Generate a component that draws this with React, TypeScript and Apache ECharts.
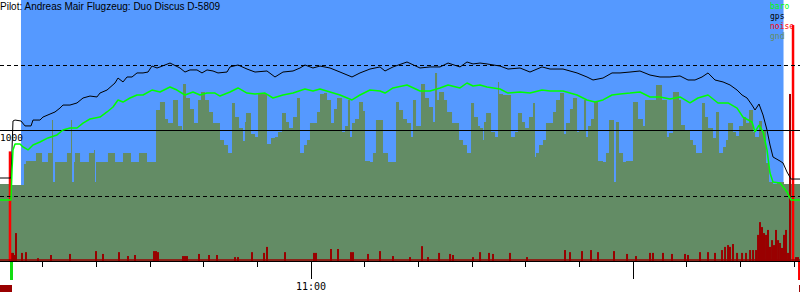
import React, { useEffect, useRef } from 'react';
import * as echarts from 'echarts';

// ---- texts ----
const titleText = 'Pilot: Andreas Mair Flugzeug: Duo Discus D-5809';
const legendNames = ['baro', 'gps', 'noise', 'gnd'];

// ---- time axis (minutes after 10:00) ----
const axisStart = 2.05;
const axisEnd = 151.12;
const flightStart = 5.96;
const flightEnd = 148.05;
const takeoffTime = 4.19;
const landingTime = 150.94;
const engineRunStart = [2.05, 150.94];
const engineRunEnd = [4.29, 151.12];
const tickMinutes = [10, 20, 30, 40, 50, 60, 70, 80, 90, 100, 110, 120, 130, 140, 150];
const hourMinutes = [60, 120];
const labelMinutes = [60];

// ---- altitude axis (m) ----
const altMax = 2000;
const dashedLevels = [500, 1500];
const solidLevels = [1000];
const labelLevels = [1000];

// ---- ground elevation (gnd): time of change, elevation ----
const gndTime = [
  2.05, 4.10, 6.52, 6.89, 8.76, 9.88, 10.99, 11.74, 11.93, 12.30,
  14.53, 15.28, 15.47, 15.84, 16.03, 16.96, 18.63, 19.57, 19.75, 19.94,
  22.17, 23.48, 24.97, 26.46, 27.95, 29.44, 31.12, 31.86, 32.80, 33.36,
  34.29, 35.22, 35.96, 36.15, 36.71, 37.45, 38.20, 38.95, 39.50, 40.25,
  41.00, 41.74, 43.04, 43.79, 44.54, 45.28, 45.84, 46.59, 47.33, 47.70,
  47.89, 48.82, 49.57, 50.13, 51.80, 52.55, 53.29, 53.85, 54.60, 55.34,
  55.90, 56.65, 57.39, 57.95, 58.70, 59.25, 59.81, 61.12, 61.68, 62.42,
  62.98, 63.73, 64.29, 64.85, 65.78, 66.34, 66.89, 67.27, 67.64, 68.20,
  68.95, 69.69, 70.06, 70.99, 71.55, 72.11, 73.42, 74.35, 75.84, 76.40,
  77.15, 77.89, 78.64, 79.01, 79.57, 80.50, 81.25, 81.99, 82.74, 83.11,
  83.49, 83.86, 84.79, 85.35, 86.28, 87.59, 88.33, 89.07, 89.82, 90.38,
  91.12, 91.50, 92.06, 92.24, 92.62, 93.55, 94.29, 94.85, 95.04, 95.78,
  97.27, 98.02, 98.57, 99.32, 99.88, 100.62, 101.37, 101.74, 101.93, 102.49,
  103.23, 103.79, 105.10, 105.66, 106.40, 107.15, 107.52, 108.26, 108.82, 109.57,
  109.94, 110.87, 111.25, 111.62, 112.18, 112.74, 113.48, 114.41, 114.97, 115.53,
  116.46, 116.83, 117.39, 118.14, 118.69, 120.00, 120.93, 121.86, 122.24, 124.29,
  125.40, 126.33, 126.71, 127.45, 128.57, 128.94, 129.69, 130.62, 131.18, 131.74,
  132.86, 133.42, 133.98, 134.91, 135.47, 136.03, 136.78, 137.33, 137.71, 138.64,
  139.20, 139.76, 140.50, 141.06, 141.62, 142.37, 142.74, 143.48, 144.04, 144.79,
  145.35, 146.09, 146.84, 148.14, 151.12,
];
const gndElev = [
  590, 582, 743, 766, 828, 759, 828, 1080, 605, 759,
  828, 1080, 605, 759, 828, 759, 828, 851, 605, 759,
  828, 759, 828, 759, 828, 759, 1157, 1218, 1088, 1057,
  1234, 1035, 996, 1356, 1249, 1165, 1057, 1234, 1295, 1234,
  1142, 1057, 927, 889, 828, 1211, 1103, 1019, 920, 1065,
  1134, 973, 950, 1280, 897, 943, 950, 989, 1134, 1065,
  1019, 1103, 1249, 828, 889, 927, 1057, 1142, 1280, 1287,
  1234, 1057, 1165, 1249, 989, 1035, 1234, 950, 1057, 1088,
  1218, 1149, 766, 759, 828, 1080, 828, 759, 1218, 1157,
  1088, 1057, 950, 1234, 1035, 1356, 1249, 1180, 1065, 1441,
  1234, 1295, 1234, 1142, 1057, 927, 889, 828, 1211, 1103,
  1035, 1019, 927, 1065, 1134, 989, 950, 1372, 1280, 1272,
  950, 989, 1134, 1065, 1019, 1103, 1211, 797, 828, 889,
  927, 1057, 1142, 1234, 1287, 973, 1057, 1165, 1249, 989,
  996, 1234, 950, 1035, 1088, 1218, 766, 759, 828, 1080,
  605, 1065, 828, 759, 766, 1218, 1088, 1035, 1234, 1349,
  1234, 950, 981, 1295, 1234, 1042, 1004, 927, 889, 828,
  1211, 1103, 1019, 943, 1142, 828, 874, 927, 1057, 989,
  958, 1035, 1103, 1057, 1157, 989, 950, 1073, 1004, 751,
  605, 590, 605, 590, 590,
];

// ---- GPS altitude ----
const gpsTime = [
  2.05, 4.10, 4.47, 4.85, 5.96, 6.71, 7.83, 8.20, 9.50, 10.06,
  11.37, 12.30, 13.23, 13.79, 15.09, 16.40, 17.52, 18.82, 20.12, 20.68,
  21.99, 23.48, 24.04, 24.97, 25.72, 26.65, 27.58, 28.70, 29.63, 30.37,
  31.31, 31.86, 33.73, 35.59, 36.52, 37.45, 38.76, 39.69, 40.62, 41.74,
  42.67, 44.35, 44.91, 46.40, 48.08, 49.57, 51.80, 53.29, 54.78, 56.65,
  57.95, 58.88, 60.37, 61.68, 63.54, 65.41, 67.64, 69.13, 70.99, 72.86,
  73.79, 75.28, 77.89, 80.31, 82.18, 84.04, 85.54, 87.77, 89.07, 90.19,
  91.50, 92.80, 95.22, 96.71, 98.95, 100.81, 103.05, 104.54, 106.96, 109.57,
  111.43, 112.55, 114.41, 116.09, 117.58, 119.44, 121.30, 123.17, 125.03, 126.89,
  128.76, 130.25, 131.56, 132.86, 133.98, 135.28, 136.78, 138.08, 139.39, 140.32,
  141.25, 142.18, 142.74, 143.48, 144.23, 144.97, 145.53, 146.09, 147.40, 147.96,
  148.70, 149.45, 151.12,
];
const gpsAlt = [
  636, 636, 1073, 1080, 1073, 1035, 1035, 1080, 1080, 1103,
  1126, 1142, 1172, 1195, 1195, 1211, 1249, 1264, 1257, 1287,
  1310, 1364, 1402, 1372, 1410, 1410, 1441, 1441, 1448, 1494,
  1479, 1487, 1517, 1479, 1448, 1464, 1464, 1441, 1464, 1456,
  1441, 1448, 1487, 1502, 1471, 1448, 1456, 1410, 1448, 1456,
  1479, 1502, 1479, 1494, 1479, 1448, 1410, 1441, 1471, 1487,
  1456, 1487, 1525, 1479, 1487, 1487, 1517, 1487, 1525, 1510,
  1517, 1510, 1494, 1471, 1479, 1448, 1487, 1471, 1471, 1441,
  1410, 1387, 1402, 1441, 1441, 1448, 1456, 1425, 1410, 1410,
  1418, 1387, 1387, 1410, 1441, 1387, 1372, 1349, 1310, 1272,
  1249, 1195, 1157, 1203, 1119, 1004, 889, 797, 766, 751,
  682, 628, 628,
];

// ---- barometric altitude ----
const baroTime = [
  2.05, 4.10, 4.29, 4.47, 4.85, 5.78, 6.34, 7.27, 8.20, 9.50,
  10.99, 12.67, 13.79, 15.09, 16.40, 17.52, 18.82, 20.68, 21.99, 23.11,
  24.04, 24.97, 26.27, 27.58, 28.70, 30.37, 31.86, 33.73, 35.03, 36.52,
  38.01, 39.32, 40.62, 42.11, 43.04, 44.91, 46.40, 48.08, 49.57, 51.43,
  52.92, 54.78, 56.65, 58.88, 60.37, 61.68, 63.54, 65.41, 67.64, 69.13,
  70.99, 72.86, 73.79, 75.28, 77.89, 80.31, 82.18, 84.04, 85.54, 87.77,
  89.07, 90.19, 91.50, 92.80, 95.22, 96.71, 98.95, 100.81, 103.05, 104.54,
  106.96, 109.57, 111.43, 112.92, 114.41, 116.09, 117.58, 119.44, 121.30, 123.17,
  125.03, 126.89, 128.76, 130.62, 132.11, 133.98, 135.84, 137.71, 139.39, 140.50,
  142.18, 142.74, 143.48, 144.23, 144.97, 145.53, 146.09, 147.40, 148.70, 149.45,
  151.12,
];
const baroAlt = [
  467, 467, 697, 851, 897, 897, 874, 851, 889, 912,
  943, 966, 1004, 1019, 1019, 1057, 1088, 1103, 1142, 1180,
  1234, 1218, 1249, 1272, 1272, 1310, 1295, 1333, 1310, 1272,
  1295, 1272, 1287, 1287, 1264, 1295, 1326, 1287, 1280, 1287,
  1249, 1272, 1287, 1318, 1303, 1318, 1295, 1272, 1234, 1272,
  1310, 1303, 1287, 1326, 1349, 1303, 1303, 1326, 1349, 1326,
  1364, 1341, 1349, 1333, 1318, 1287, 1295, 1287, 1310, 1303,
  1303, 1272, 1234, 1218, 1234, 1272, 1280, 1287, 1295, 1257,
  1257, 1241, 1257, 1211, 1249, 1272, 1211, 1211, 1172, 1103,
  1065, 989, 1042, 989, 851, 674, 605, 598, 529, 467,
  467,
];

// ---- noise level (%) ----
const noiseTime = [
  4.29, 4.47, 4.66, 5.03, 6.15, 6.89, 9.13, 11.55, 15.09, 19.94,
  21.24, 24.22, 25.90, 27.21, 30.75, 31.12, 31.49, 36.15, 36.52, 36.90,
  39.13, 41.00, 42.49, 45.84, 46.40, 49.01, 51.24, 51.80, 55.16, 60.56,
  60.93, 63.73, 65.03, 67.45, 67.83, 70.62, 72.86, 75.28, 78.45, 80.69,
  81.80, 83.86, 85.91, 86.46, 90.19, 91.50, 93.17, 93.92, 97.08, 100.25,
  107.33, 108.26, 110.50, 112.18, 113.48, 116.46, 118.89, 120.56, 123.17, 123.73,
  125.59, 127.27, 129.69, 130.25, 132.49, 133.98, 135.28, 136.59, 137.15, 137.71,
  138.08, 138.64, 139.39, 140.32, 141.06, 141.81, 142.37, 142.93, 143.30, 143.67,
  144.04, 144.41, 144.79, 145.16, 145.53, 145.91, 146.28, 146.65, 147.03, 147.40,
  147.77, 148.14, 148.51, 148.89, 149.26, 150.38, 150.75,
];
const noiseLevel = [
  3.1, 3.1, 2.3, 10.7, 3.1, 3.4, 1.1, 2.3, 2.7, 3.8,
  2.7, 3.4, 1.9, 2.3, 3.8, 3.8, 3.4, 1.9, 1.9, 1.9,
  2.7, 2.3, 2.3, 1.5, 1.5, 3.4, 3.1, 5.4, 3.4, 3.1,
  3.1, 4.6, 4.6, 3.4, 3.4, 2.7, 3.8, 1.9, 1.5, 5.7,
  1.5, 3.1, 2.7, 2.3, 1.5, 3.4, 3.1, 2.7, 3.1, 1.5,
  4.2, 3.4, 3.8, 4.2, 3.4, 3.8, 2.7, 1.9, 3.1, 3.1,
  3.1, 2.7, 2.7, 2.3, 3.4, 3.4, 3.1, 4.2, 5.4, 6.1,
  5.4, 6.5, 3.1, 3.1, 3.1, 4.2, 4.2, 4.2, 10.0, 14.9,
  13.0, 10.7, 10.0, 11.9, 5.4, 8.0, 6.1, 11.9, 8.0, 6.9,
  5.0, 10.0, 11.9, 3.1, 64.0, 1.5, 1.5,
];
const noiseFloor = 0.4;
const noisePeakTime = [3.91, 149.82];
const noisePeakLevel = [42, 90.4];

// ---- colours ----
const skyColor = '#5599ff';
const gndColor = '#638c65';
const baroColor = '#00ff00';
const gpsColor = '#000000';
const noiseColor = '#990000';
const noisePeakColor = '#ff0000';
const takeoffColor = '#11dd11';

const zip = (a: number[], b: number[]) => a.map((v, i) => [v, b[i]]);
const clock = (v: number) => {
  const h = 10 + Math.floor(v / 60);
  const m = Math.round(v % 60);
  return `${h}:${String(m).padStart(2, '0')}`;
};

const barRenderer = (fill: string, w: number) => (_p: any, api: any) => {
  const top = api.coord([api.value(0), api.value(1)]);
  const bottom = api.coord([api.value(0), 0]);
  return {
    type: 'rect',
    shape: { x: top[0] - w / 2, y: top[1], width: w, height: bottom[1] - top[1] },
    style: { fill },
  };
};

export default function App() {
  const ref = useRef<HTMLDivElement>(null);
  useEffect(() => {
    if (!ref.current) return;
    const chart = echarts.init(ref.current, undefined, { renderer: 'svg' });
    const mono = 'DejaVu Sans Mono';
    const xBase = { type: 'value', min: axisStart, max: axisEnd, position: 'bottom', gridIndex: 0 };
    chart.setOption({
      animation: false,
      backgroundColor: '#ffffff',
      title: {
        text: titleText, left: 0, top: 1, padding: 0,
        textStyle: { fontFamily: 'Liberation Sans', fontSize: 10, fontWeight: 'normal', color: '#000' },
      },
      legend: {
        orient: 'vertical', left: 765, top: 1, padding: 0, itemGap: 0,
        itemWidth: 0, itemHeight: 10, icon: 'none', selectedMode: false,
        textStyle: { fontFamily: mono, fontSize: 8, lineHeight: 10, padding: 0 },
        data: [
          { name: legendNames[0], textStyle: { color: baroColor } },
          { name: legendNames[1], textStyle: { color: gpsColor } },
          { name: legendNames[2], textStyle: { color: noisePeakColor } },
          { name: legendNames[3], textStyle: { color: gndColor } },
        ],
      },
      grid: { left: 0, right: 0, top: 0, bottom: 39, containLabel: false, outerBoundsMode: 'none' },
      xAxis: [
        {
          ...xBase,
          axisLine: { show: true, onZero: false, lineStyle: { color: '#000', width: 1 } },
          axisTick: { show: true, customValues: tickMinutes, length: 6, lineStyle: { color: '#000', width: 1 } },
          axisLabel: { show: false },
          splitLine: { show: false },
        },
        {
          ...xBase,
          axisLine: { show: false, onZero: false },
          axisTick: { show: true, customValues: hourMinutes, length: 18, lineStyle: { color: '#000', width: 1 } },
          axisLabel: {
            show: true, customValues: labelMinutes, margin: 20, formatter: (v: number) => clock(v),
            fontFamily: mono, fontSize: 10, color: '#000',
          },
          splitLine: { show: false },
        },
      ],
      yAxis: [
        {
          type: 'value', min: 0, max: altMax, interval: 1000, z: 20,
          axisLine: { show: false }, axisTick: { show: false }, splitLine: { show: false },
          axisLabel: {
            inside: true, margin: 0, align: 'left', verticalAlign: 'top', padding: [2, 0, 0, 0],
            formatter: (v: number) => (labelLevels.includes(v) ? String(v) : ''),
            fontFamily: mono, fontSize: 9.5, color: '#000',
          },
        },
        { type: 'value', min: 0, max: 100, show: false },
      ],
      series: [
        {
          name: 'flight', type: 'line', z: 1, symbol: 'none',
          data: [[flightStart, altMax], [flightEnd, altMax]],
          lineStyle: { width: 0 }, areaStyle: { color: skyColor, opacity: 1 }, silent: true,
        },
        {
          name: 'gnd', type: 'line', z: 2, step: 'end', symbol: 'none',
          data: zip(gndTime, gndElev), color: gndColor,
          lineStyle: { width: 0 }, areaStyle: { color: gndColor, opacity: 1 },
          markLine: {
            silent: true, symbol: ['none', 'none'], label: { show: false },
            lineStyle: { color: '#000', width: 1 },
            data: [
              ...dashedLevels.map((v) => ({ yAxis: v, lineStyle: { type: [4, 3], color: '#000', width: 1 } })),
              ...solidLevels.map((v) => ({ yAxis: v, lineStyle: { type: 'solid', color: '#000', width: 1 } })),
            ],
          },
        },
        {
          name: 'noise', type: 'custom', yAxisIndex: 1, z: 3, color: noisePeakColor,
          data: zip(noiseTime, noiseLevel), renderItem: barRenderer(noiseColor, 2),
          markLine: {
            silent: true, symbol: ['none', 'none'], label: { show: false },
            lineStyle: { color: noiseColor, width: 1.5, type: 'solid' },
            data: [{ yAxis: noiseFloor }],
          },
        },
        {
          name: 'noisePeak', type: 'custom', yAxisIndex: 1, z: 3,
          data: zip(noisePeakTime, noisePeakLevel), renderItem: barRenderer(noisePeakColor, 2.5),
        },
        {
          name: 'gps', type: 'line', z: 10, symbol: 'none', color: gpsColor,
          data: zip(gpsTime, gpsAlt), lineStyle: { color: gpsColor, width: 1 },
        },
        {
          name: 'baro', type: 'line', z: 11, symbol: 'none', color: baroColor,
          data: zip(baroTime, baroAlt), lineStyle: { color: baroColor, width: 1.5 },
        },
      ],
    });

    const px = (t: number) => chart.convertToPixel({ xAxisIndex: 0 }, t) as number;
    const base = chart.convertToPixel({ yAxisIndex: 0 }, 0) as number;
    chart.setOption({
      graphic: [
        { type: 'rect', shape: { x: px(takeoffTime) - 1.5, y: base + 1, width: 3, height: 18 }, style: { fill: takeoffColor } },
        { type: 'rect', shape: { x: px(landingTime) - 1, y: base + 1, width: 2, height: 18 }, style: { fill: noisePeakColor } },
        ...engineRunStart.map((s, i) => ({
          type: 'rect',
          shape: { x: px(s), y: base + 24, width: px(engineRunEnd[i]) - px(s), height: 7 },
          style: { fill: noiseColor },
        })),
      ],
    });
    return () => chart.dispose();
  }, []);
  return <div ref={ref} style={{ position: 'fixed', left: 0, top: 0, width: 800, height: 300 }} />;
}
